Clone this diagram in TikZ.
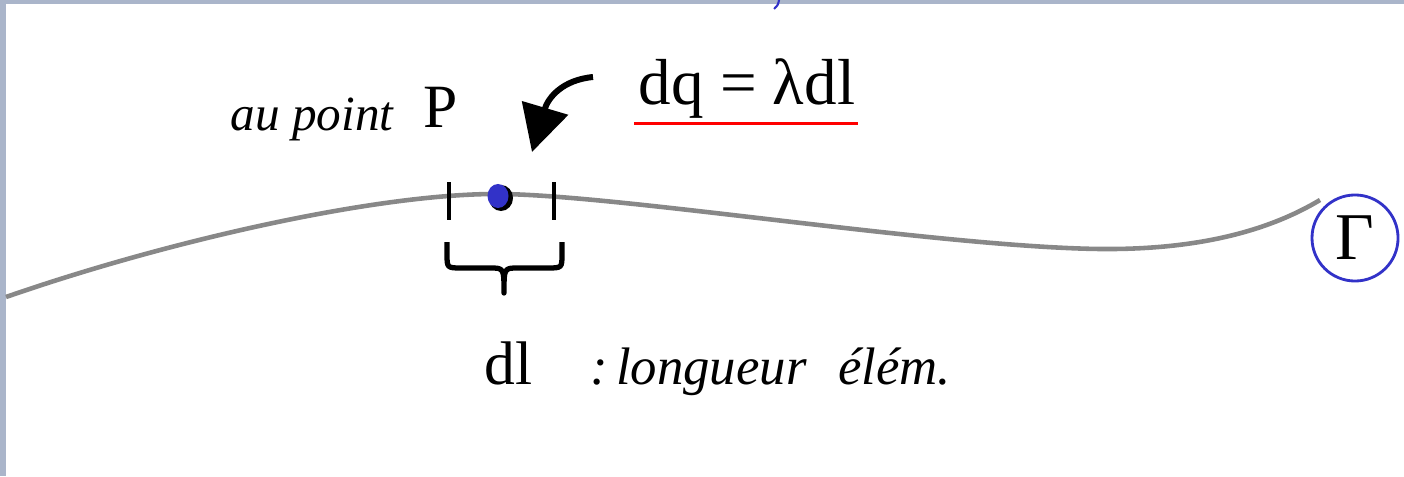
\documentclass[tikz,border=0pt]{standalone}
\usepackage{fontspec}
\setmainfont{Liberation Serif}
\usepackage{tikz}
\usetikzlibrary{arrows.meta, positioning, shapes.geometric}
\usepackage{xcolor}

\definecolor{frameBlue}{RGB}{170,181,202}
\definecolor{penBlue}{RGB}{50,50,200}
\definecolor{curveGray}{RGB}{136,136,136}

\begin{document}
\begin{tikzpicture}[
    x=0.01cm, y=-0.01cm,
    serifLabel/.style={font=\fontsize{17.5}{20}\selectfont, inner sep=0pt},
    handLabel/.style={font=\itshape\fontsize{15}{18}\selectfont, inner sep=0pt},
    gammaCircle/.style={circle, draw=penBlue, line width=0.8pt, minimum size=0.86cm, inner sep=0pt, font=\fontsize{19}{20}\selectfont},
    pointDot/.style={ellipse, fill=penBlue, minimum width=0.21cm, minimum height=0.24cm, inner sep=0pt},
    dotShadow/.style={ellipse, fill=black, minimum width=0.24cm, minimum height=0.26cm, inner sep=0pt},
    curveLine/.style={curveGray, line width=1.3pt},
    tickLine/.style={black, line width=1.4pt},
    braceLine/.style={black, line width=1.5pt, line join=round},
    bentArrow/.style={-{Triangle[length=4.6mm, width=4.7mm]}, black, line width=1.7pt},
    underLine/.style={red, line width=0.6pt}
]
    % Frame
    \useasboundingbox (0,0) rectangle (1404,476);
    \fill[frameBlue] (0,0) rectangle (1404,476);
    \fill[white] (6,4) rectangle (1404,476);
    \draw[penBlue, line width=0.6pt] (779,0) .. controls (778,5) .. (774,9);

    % Curve Gamma
    \draw[curveLine] (6,297) .. controls (170,240) and (380,193) .. (500,194)
        .. controls (620,195) and (940,247) .. (1100,249)
        .. controls (1200,250) and (1270,230) .. (1320,200);
    \node[gammaCircle] (gamma) at (1355,238) {Γ};

    % Length element
    \draw[tickLine] (449,182) -- (449,220);
    \draw[tickLine] (554,182) -- (554,220);
    \node[dotShadow] (dotBack) at (501,198) {};
    \node[pointDot] (dotP) at (498,196) {};

    % Brace
    \coordinate (braceLeft)  at (447,242);
    \coordinate (braceTip)   at (504,293);
    \coordinate (braceRight) at (562,242);
    \draw[braceLine] (braceLeft) -- (447,254) .. controls (447,268) .. (462,268)
        -- (490,268) .. controls (504,268) .. (braceTip)
        .. controls (504,268) .. (518,268) -- (547,268)
        .. controls (562,268) .. (562,254) -- (braceRight);

    % Labels
    \node[handLabel, anchor=base west, font=\itshape\fontsize{14}{16}\selectfont] (auPoint) at (230,130) {au point};
    \node[serifLabel, anchor=base west] (pointP) at (423,128) {P};
    \node[serifLabel, anchor=base west, font=\fontsize{18.5}{20}\selectfont] (dqEq) at (638,104) {dq = λdl};
    \draw[underLine] ([shift={(-4,5)}]dqEq.south west) -- ([shift={(2,5)}]dqEq.south east);
    \node[serifLabel, anchor=base west] (dlLabel) at (484,384) {dl};
    \node[handLabel, anchor=base west] (dlText) at (590,384) {:\hspace{0.15em}longueur\hspace{0.6em}élém.};

    % Arrow to P
    \coordinate (arrowStart) at (593,77);
    \coordinate (arrowTip)   at (532,152);
    \draw[bentArrow] (arrowStart) .. controls (562,80) and (548,98) .. (arrowTip);
\end{tikzpicture}
\end{document}
